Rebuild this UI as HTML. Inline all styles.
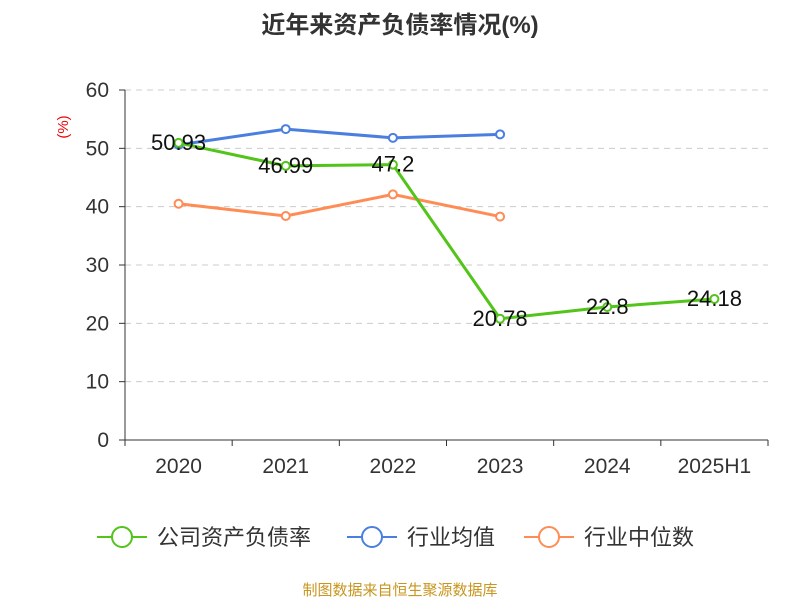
<!DOCTYPE html>
<html><head><meta charset="utf-8"><style>
body{margin:0;background:#fff;font-family:"Liberation Sans","Noto Sans CJK SC",sans-serif;}
</style></head><body>
<svg id="c" width="800" height="600" xmlns="http://www.w3.org/2000/svg" font-family="Liberation Sans, Noto Sans CJK SC, sans-serif">
<text x="400" y="33" text-anchor="middle" font-size="24" font-weight="bold" fill="#333">近年来资产负债率情况(%)</text>
<text transform="translate(68,127) rotate(-90)" text-anchor="middle" font-size="15" fill="#e00">(%)</text>
<g id="grid"></g><g id="axes"></g><g id="series"></g>
<g font-size="22" fill="#333">
<g><line x1="97" y1="537" x2="147" y2="537" stroke="#52c41a" stroke-width="2"/><circle cx="122" cy="537" r="10" fill="#fff" stroke="#52c41a" stroke-width="2"/><text x="157" y="545">公司资产负债率</text></g>
<g><line x1="347" y1="537" x2="397" y2="537" stroke="#4a7fe0" stroke-width="2"/><circle cx="372" cy="537" r="10" fill="#fff" stroke="#4a7fe0" stroke-width="2"/><text x="407" y="545">行业均值</text></g>
<g><line x1="524" y1="537" x2="574" y2="537" stroke="#ff8c55" stroke-width="2"/><circle cx="549" cy="537" r="10" fill="#fff" stroke="#ff8c55" stroke-width="2"/><text x="584" y="545">行业中位数</text></g>
</g>
<text x="400" y="595" text-anchor="middle" font-size="15" fill="#c8961e">制图数据来自恒生聚源数据库</text>
</svg>
<script>
const categories=["2020","2021","2022","2023","2024","2025H1"];
const yTicks=[0,10,20,30,40,50,60];
const company=[50.93,46.99,47.2,20.78,22.8,24.18];
const industryAvg=[50.6,53.3,51.8,52.4,null,null];
const industryMedian=[40.5,38.4,42.1,38.3,null,null];
const NS="http://www.w3.org/2000/svg";
const X0=125,X1=768,Y0=440,Y1=90;
const bw=(X1-X0)/categories.length;
const x=i=>X0+bw*(i+0.5);
const y=v=>Y0-(v-0)/(60-0)*(Y0-Y1);
function mk(t,a,p){const e=document.createElementNS(NS,t);for(const k in a)e.setAttribute(k,a[k]);p.appendChild(e);return e;}
const grid=document.getElementById('grid'),axes=document.getElementById('axes'),ser=document.getElementById('series');
yTicks.forEach(v=>{
 if(v>0){const g=mk('line',{x1:X0,x2:X1,y1:y(v),y2:y(v),stroke:'#ccc','stroke-dasharray':'6,5'},grid);
 
 }
 mk('line',{x1:X0-6,x2:X0,y1:y(v),y2:y(v),stroke:'#333'},axes);
 const t=mk('text',{x:X0-16,y:y(v)+7,'text-anchor':'end','font-size':21,fill:'#333'},axes);t.textContent=v;
 
 
});
const ya=mk('line',{x1:X0,x2:X0,y1:Y1,y2:Y0,stroke:'#333'},axes);


const xa=mk('line',{x1:X0,x2:X1,y1:Y0,y2:Y0,stroke:'#333'},axes);


for(let i=0;i<=categories.length;i++)mk('line',{x1:X0+bw*i,x2:X0+bw*i,y1:Y0,y2:Y0+6,stroke:'#333'},axes);
categories.forEach((c,i)=>{const t=mk('text',{x:x(i),y:Y0+33,'text-anchor':'middle','font-size':21,fill:'#333'},axes);t.textContent=c;
 
 });
function series(vals,color,name,labels){
 const g=mk('g',{},ser);
 
 
 const pts=vals.map((v,i)=>v==null?null:[x(i),y(v)]).filter(p=>p);
 mk('polyline',{points:pts.map(p=>p.join(',')).join(' '),fill:'none',stroke:color,'stroke-width':3},g);
 vals.forEach((v,i)=>{if(v==null)return;
  const c=mk('circle',{cx:x(i),cy:y(v),r:4,fill:'#fff',stroke:color,'stroke-width':2},g);
  
  
  if(labels){const t=mk('text',{x:x(i),y:y(v)+7,'text-anchor':'middle','font-size':22,fill:'#111'},g);t.textContent=v;
   
   }
 });
}
series(industryMedian,'#ff8c55','industry-median-line',false);
series(industryAvg,'#4a7fe0','industry-avg-line',false);
series(company,'#52c41a','company-line',true);
</script>
</body></html>
